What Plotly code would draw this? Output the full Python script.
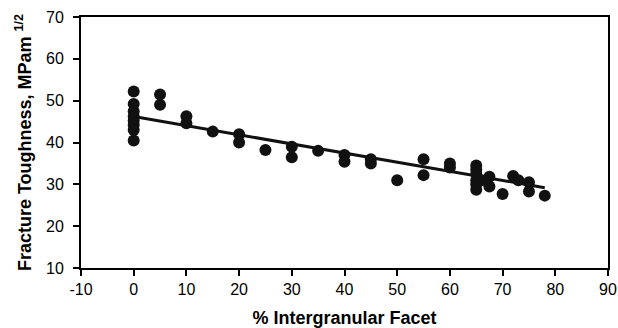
import plotly.graph_objects as go

facet = [0, 0, 0, 0, 0, 0, 0, 0,
         5, 5,
         10, 10,
         15,
         20, 20,
         25,
         30, 30,
         35,
         40, 40,
         45, 45,
         50,
         55, 55,
         60, 60,
         65, 65, 65, 65, 65, 65,
         66,
         67.5, 67.5,
         70,
         72, 73,
         75, 75,
         78]
toughness = [52.2, 49.2, 47.5, 46.2, 45.2, 44.2, 43.0, 40.5,
             51.5, 49.0,
             46.3, 44.6,
             42.6,
             42.0, 40.0,
             38.2,
             39.0, 36.5,
             38.0,
             37.0, 35.4,
             36.0, 35.0,
             31.0,
             36.0, 32.2,
             35.0, 34.0,
             34.5, 33.5, 32.5, 31.0, 30.0, 28.7,
             31.0,
             31.8, 29.5,
             27.7,
             32.0, 31.0,
             30.5, 28.3,
             27.3]

# Linear trend line as drawn in the reference
trend_x = [0, 78]
trend_y = [46.2, 29.2]

x_ticks = list(range(-10, 91, 10))
x_tick_text = [str(v) for v in x_ticks]  # hyphen-minus as in the reference
y_ticks = list(range(10, 71, 10))

fig = go.Figure()
fig.add_trace(go.Scatter(x=facet, y=toughness, mode="markers",
                         marker=dict(color="#111111", size=12, line=dict(width=0)),
                         showlegend=False))
fig.add_trace(go.Scatter(x=trend_x, y=trend_y, mode="lines",
                         line=dict(color="#111111", width=3), showlegend=False))

font = "Liberation Sans, Arial, sans-serif"
fig.update_layout(
    width=618, height=328,
    margin=dict(l=81, r=10, t=17, b=60),
    paper_bgcolor="white", plot_bgcolor="white",
    font=dict(family=font, color="black", size=16),
    xaxis=dict(range=[-10, 90], tickvals=x_ticks, ticktext=x_tick_text,
               showgrid=False, zeroline=False, automargin=False,
               showline=True, linecolor="black", linewidth=2, mirror=True,
               ticks="outside", ticklen=6, tickwidth=1.5, tickcolor="black",
               tickfont=dict(size=16),
               title=dict(text="<b>% Intergranular Facet</b>", font=dict(size=18), standoff=14)),
    yaxis=dict(range=[10, 70], tickvals=y_ticks,
               showgrid=False, zeroline=False, automargin=False,
               showline=True, linecolor="black", linewidth=2, mirror=True,
               ticks="outside", ticklen=6, tickwidth=1.5, tickcolor="black",
               tickfont=dict(size=16), ticklabelstandoff=6,
               title=dict(text="<b>Fracture Toughness, MPam <sup>1/2</sup></b>", font=dict(size=18), standoff=10)),
)
fig.write_html("out.html")
